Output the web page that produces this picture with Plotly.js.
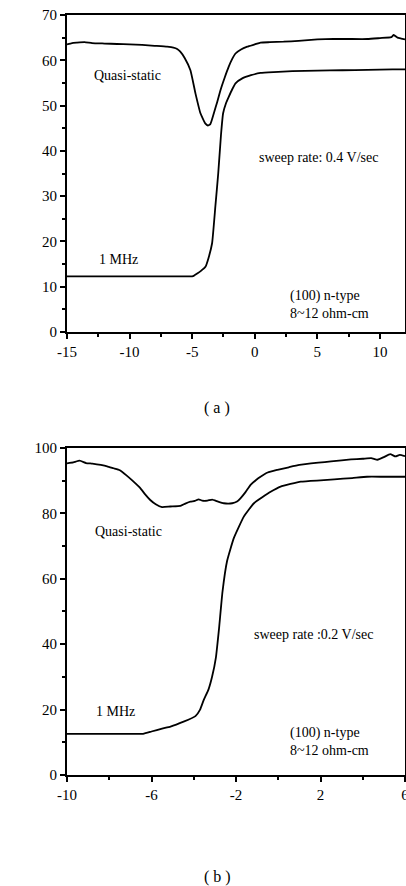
<!DOCTYPE html>
<html>
<head>
<meta charset="utf-8">
<script src="https://cdn.plot.ly/plotly-3.0.1.min.js"></script>
<style>html,body{margin:0;padding:0;background:#fff;}#chart{width:406px;height:886px;}</style>
</head>
<body>
<div id="chart"></div>
<script>
// Panel (a): sweep rate 0.4 V/sec
const qsA_x = [-15, -14.6, -14.2, -13.6, -13, -12, -11, -10, -9, -8, -7, -6.5, -6.2, -5.95, -5.6, -5.14, -4.74, -4.34, -3.94, -3.75, -3.55, -3.27, -3.0, -2.74, -2.4, -2.08, -1.8, -1.54, -1.1, -0.6, 0, 0.46, 1.2, 2.3, 3.5, 5, 6.3, 7.5, 9, 10, 10.9, 11.1, 11.4, 11.7, 12];
const qsA_y = [63.5, 63.8, 63.9, 64.0, 63.8, 63.7, 63.6, 63.5, 63.4, 63.2, 63.0, 62.8, 62.5, 61.9, 60.5, 57.8, 52.7, 48.3, 46.0, 45.6, 45.9, 48.3, 50.8, 53.4, 56.2, 58.6, 60.3, 61.5, 62.4, 63.0, 63.5, 63.9, 64.0, 64.1, 64.3, 64.6, 64.7, 64.7, 64.7, 64.9, 65.1, 65.6, 65.0, 64.8, 64.6];
const mhzA_x = [-15, -10, -5, -4.88, -4.6, -4.3, -3.94, -3.7, -3.41, -3.14, -2.92, -2.7, -2.53, -2.3, -2.08, -1.8, -1.54, -1.0, -0.3, 0.46, 1.5, 3, 5, 7, 9, 11, 12];
const mhzA_y = [12.3, 12.3, 12.3, 12.4, 12.9, 13.5, 14.4, 16.3, 19.6, 28.0, 35.0, 43.5, 48.3, 50.5, 51.9, 53.6, 54.9, 56.0, 56.7, 57.2, 57.4, 57.6, 57.7, 57.8, 57.9, 58.0, 58.0];

// Panel (b): sweep rate 0.2 V/sec
const qsB_x = [-10, -9.7, -9.4, -9.1, -8.8, -8.4, -8.1, -7.8, -7.5, -7.2, -6.9, -6.53, -6.3, -6.06, -5.8, -5.5, -5.11, -4.63, -4.4, -4.16, -3.95, -3.77, -3.6, -3.35, -3.13, -2.85, -2.58, -2.18, -1.95, -1.79, -1.55, -1.31, -1.05, -0.84, -0.5, -0.04, 0.5, 1.0, 1.9, 2.5, 3.0, 3.44, 4.0, 4.4, 4.7, 5.0, 5.3, 5.55, 5.75, 6];
const qsB_y = [95.3, 95.6, 96.1, 95.4, 95.2, 94.8, 94.4, 93.8, 93.2, 91.7, 90.0, 87.7, 85.8, 84.1, 82.8, 81.9, 82.1, 82.3, 83.0, 83.6, 83.8, 84.3, 83.9, 83.9, 84.2, 83.6, 83.1, 83.1, 83.6, 84.6, 86.5, 88.7, 90.2, 91.2, 92.5, 93.3, 94.1, 94.8, 95.5, 95.9, 96.2, 96.5, 96.7, 96.9, 96.4, 97.2, 98.1, 97.4, 97.9, 97.5];
const mhzB_x = [-10, -8, -6.4, -6.0, -5.5, -5.1, -4.48, -3.92, -3.7, -3.53, -3.3, -3.13, -2.95, -2.8, -2.64, -2.42, -2.1, -1.63, -1.15, -0.36, 0.11, 1.07, 2.0, 2.65, 3.5, 4.2, 5, 6];
const mhzB_y = [12.6, 12.6, 12.6, 13.3, 14.2, 14.8, 16.3, 18.0, 20.0, 22.9, 26.2, 30.1, 36.0, 45.0, 56.0, 65.5, 72.5, 79.0, 83.1, 86.6, 88.2, 89.7, 90.1, 90.4, 90.8, 91.2, 91.2, 91.2];

const xTicksA = [-15, -10, -5, 0, 5, 10];
const xLabelsA = ['-15', '-10', '-5', '0', '5', '10'];
const yTicksA = [0, 10, 20, 30, 40, 50, 60, 70];
const xTicksB = [-10, -6, -2, 2, 6];
const xLabelsB = ['-10', '-6', '-2', '2', '6'];
const yTicksB = [0, 20, 40, 60, 80, 100];

const FONT = '"Liberation Serif", "Times New Roman", serif';
const line = {color: '#000', width: 1.8, shape: 'spline', smoothing: 0.4};

const traces = [
  {x: qsA_x, y: qsA_y, xaxis: 'x', yaxis: 'y', mode: 'lines', line: line, name: 'Quasi-static'},
  {x: mhzA_x, y: mhzA_y, xaxis: 'x', yaxis: 'y', mode: 'lines', line: line, name: '1 MHz'},
  {x: qsB_x, y: qsB_y, xaxis: 'x2', yaxis: 'y2', mode: 'lines', line: line, name: 'Quasi-static'},
  {x: mhzB_x, y: mhzB_y, xaxis: 'x2', yaxis: 'y2', mode: 'lines', line: line, name: '1 MHz'}
];

function ax(extra) {
  return Object.assign({
    showline: true, mirror: true, linecolor: '#000', linewidth: 2,
    ticks: 'outside', ticklen: 5, tickwidth: 2, tickcolor: '#000',
    showgrid: false, zeroline: false, fixedrange: true, ticklabeloverflow: 'allow',
    tickfont: {family: FONT, size: 15, color: '#000'}
  }, extra);
}
const minor = (d, t0) => ({dtick: d, tick0: t0, ticklen: 3, tickwidth: 2, ticks: 'outside', tickcolor: '#000'});

const tf = {family: FONT, size: 14, color: '#000'};
function ann(x, y, xref, yref, text, extra) {
  return Object.assign({x: x, y: y, xref: xref, yref: yref, text: text, showarrow: false, font: tf, xanchor: 'left', yanchor: 'middle', align: 'left'}, extra || {});
}

const pw = 406 - 67 - 1, ph = 886 - 15 - 111;
const layout = {
  width: 406, height: 886,
  margin: {l: 67, r: 1, t: 15, b: 111},
  paper_bgcolor: '#fff', plot_bgcolor: '#fff',
  showlegend: false,
  xaxis: ax({domain: [0, 1], anchor: 'y', range: [-15, 12], tickvals: xTicksA, ticktext: xLabelsA, minor: minor(2.5, -15)}),
  yaxis: ax({domain: [0.5829, 1], anchor: 'x', range: [0, 70], tickvals: yTicksA, minor: minor(5, 0)}),
  xaxis2: ax({domain: [0, 1], anchor: 'y2', range: [-10, 6], tickvals: xTicksB, ticktext: xLabelsB, minor: minor(2, -10)}),
  yaxis2: ax({domain: [0, 0.4303], anchor: 'x2', range: [0, 100], tickvals: yTicksB, minor: minor(10, 0)}),
  annotations: [
    ann(-13.0, 56.7, 'x', 'y', 'Quasi-static'),
    ann(0.14, 38.6, 'x', 'y', 'sweep rate: 0.4 V/sec'),
    ann(-12.6, 16.1, 'x', 'y', '1 MHz'),
    ann(2.63, 6.0, 'x', 'y', '(100) n-type<br>8~12 ohm-cm'),
    ann(-8.77, 74.6, 'x2', 'y2', 'Quasi-static'),
    ann(-1.22, 43.1, 'x2', 'y2', 'sweep rate :0.2 V/sec'),
    ann(-8.72, 19.3, 'x2', 'y2', '1 MHz'),
    ann(0.45, 10.2, 'x2', 'y2', '(100) n-type<br>8~12 ohm-cm'),
    ann(-17.0, 38, 'x', 'y', 'C [pF]', {textangle: -90, xanchor: 'center', font: {family: FONT, size: 14, color: '#000'}}),
    ann(-11.14, 42.5, 'x2', 'y2', 'C [pF]', {textangle: -90, xanchor: 'center', font: {family: FONT, size: 14, color: '#000'}}),
    ann(-2, -9.1, 'x', 'y', 'Vg', {xanchor: 'center', font: {family: FONT, size: 17, color: '#000'}}),
    ann(-2, -13.1, 'x2', 'y2', 'Vg', {xanchor: 'center', font: {family: FONT, size: 17, color: '#000'}}),
    ann((217 - 67) / pw, (775 - 408) / ph, 'paper', 'paper', '( a )', {xanchor: 'center', font: {family: FONT, size: 16, color: '#000'}}),
    ann((217 - 67) / pw, (775 - 877) / ph, 'paper', 'paper', '( b )', {xanchor: 'center', font: {family: FONT, size: 16, color: '#000'}})
  ]
};

Plotly.newPlot('chart', traces, layout, {displayModeBar: false, staticPlot: true});
</script>
</body>
</html>
